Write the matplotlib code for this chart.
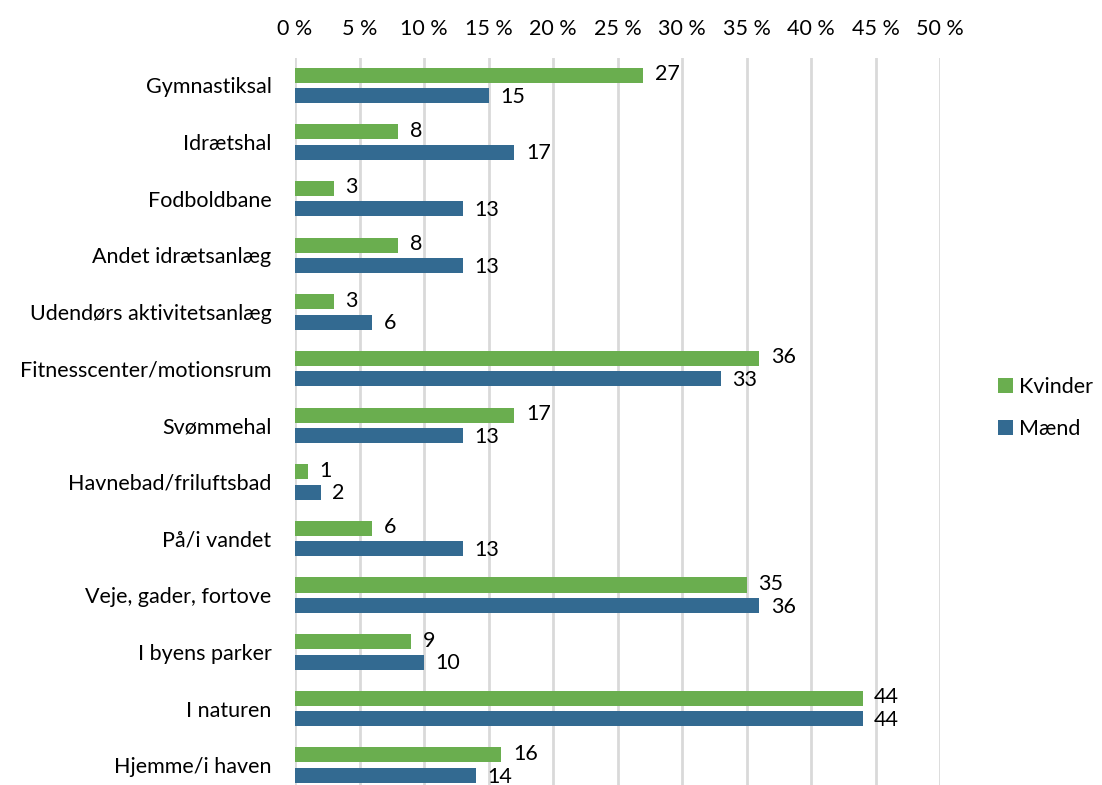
import matplotlib.pyplot as plt
from matplotlib.patches import Patch

plt.rcParams['font.family'] = ['Lato', 'DejaVu Sans']

# data
categories = ["Gymnastiksal", "Idrætshal", "Fodboldbane", "Andet idrætsanlæg",
              "Udendørs aktivitetsanlæg", "Fitnesscenter/motionsrum", "Svømmehal",
              "Havnebad/friluftsbad", "På/i vandet", "Veje, gader, fortove",
              "I byens parker", "I naturen", "Hjemme/i haven"]
kvinder = [27, 8, 3, 8, 3, 36, 17, 1, 6, 35, 9, 44, 16]
maend = [15, 17, 13, 13, 6, 33, 13, 2, 13, 36, 10, 44, 14]
x_ticks = list(range(0, 55, 5))

GREEN = "#6aae4f"
BLUE = "#336a91"
FS = 15.5

fig = plt.figure(figsize=(11.02, 7.85), dpi=100)
ax = fig.add_axes([0.2677, 0.0, 0.5853, 0.926])

h = 0.265
off = 0.18
ys = list(range(len(categories)))
ax.barh([y - off for y in ys], kvinder, height=h, color=GREEN, zorder=3)
ax.barh([y + off for y in ys], maend, height=h, color=BLUE, zorder=3)

for y, v in zip(ys, kvinder):
    ax.text(v + 0.9, y - off - 0.02, str(v), va="center", ha="left", fontsize=FS)
for y, v in zip(ys, maend):
    ax.text(v + 0.9, y + off + 0.02, str(v), va="center", ha="left", fontsize=FS)

ax.set_xlim(0, 50)
ax.set_ylim(len(categories) - 0.65, -0.48)
ax.set_xticks(x_ticks)
ax.set_xticklabels([f"{t} %" for t in x_ticks], fontsize=FS)
ax.xaxis.tick_top()
ax.tick_params(axis="x", length=0, pad=14)
ax.set_yticks(ys)
ax.set_yticklabels(categories, fontsize=FS)
ax.tick_params(axis="y", length=0, pad=17)
ax.grid(axis="x", color="#d9d9d9", linewidth=2, zorder=0)
for s in ax.spines.values():
    s.set_visible(False)

handles = [Patch(facecolor=GREEN, label="Kvinder"), Patch(facecolor=BLUE, label="Mænd")]
fig.legend(handles=handles, loc="center left", bbox_to_anchor=(0.888, 0.48),
           frameon=False, fontsize=FS, handlelength=0.7, handleheight=0.7,
           handletextpad=0.3, labelspacing=1.0)

fig.savefig("out.png", dpi=100)
